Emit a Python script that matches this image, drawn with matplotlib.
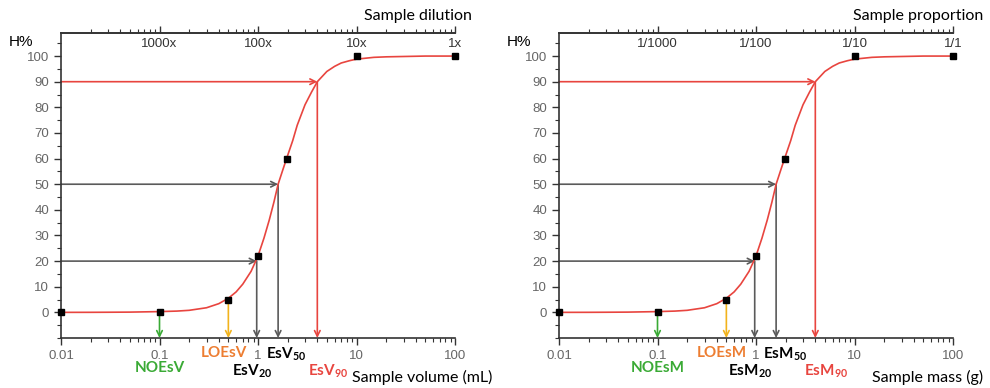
import numpy as np
import matplotlib.pyplot as plt
from matplotlib.ticker import FixedLocator, NullFormatter, MultipleLocator, LogLocator

plt.rcParams['font.family'] = ['Liberation Sans', 'DejaVu Sans']
plt.rcParams['mathtext.fontset'] = 'custom'
plt.rcParams['mathtext.rm'] = 'Lato'
plt.rcParams['mathtext.bf'] = 'Lato:bold'

# measured points (sample volume / mass, H%)
x_pts = [0.01, 0.1, 0.5, 1, 1.95, 10, 100]
h_pts = [0, 0.3, 5, 22, 60, 100, 100]

# fitted curve
curve_x = [0.01, 0.02, 0.03, 0.05, 0.1, 0.15, 0.2, 0.3, 0.4, 0.5, 0.6, 0.7, 0.85, 1,
           1.15, 1.3, 1.45, 1.6, 1.8, 1.95, 2.25, 2.5, 3, 3.5, 4, 5, 6, 7, 8.5, 10, 15, 20, 50, 100]
curve_h = [0, 0.02, 0.05, 0.1, 0.3, 0.5, 0.8, 1.8, 3.4, 5.5, 8.0, 11, 16, 22,
           29, 36, 43, 50, 56, 60, 67, 73, 81, 86, 90, 94, 96, 97.3, 98.2, 98.8, 99.5, 99.7, 100, 100]

# effect levels
noe, loe, es20, es50, es90 = 0.1, 0.5, 0.97, 1.6, 4.0
h20, h50, h90 = 20, 50, 90

bottom_ticks = [0.01, 0.1, 1, 10, 100]
bottom_labels = ['0.01', '0.1', '1', '10', '100']
top_ticks = [0.1, 1, 10, 100]
dilution_labels = ['1000x', '100x', '10x', '1x']
proportion_labels = ['1/1000', '1/100', '1/10', '1/1']

RED = '#e8453f'
GREY = '#5a5a5a'
GREEN = '#3aaa35'
YELLOW = '#f2b31c'
ORANGE = '#ed7d31'
TICKC = '#666666'

fig = plt.figure(figsize=(9.9, 3.88), dpi=100)


def panel(left, letter, top_labels, xlabel, toplabel, xlab_right, top_right, hx):
    ax = fig.add_axes([left, 1 - 338 / 388, 0.398, (338 - 33) / 388])
    ax.set_xscale('log')
    ax.set_xlim(0.01, 100)
    ax.set_ylim(-10, 109)
    ax.spines['right'].set_visible(False)
    for s in ['left', 'bottom', 'top']:
        ax.spines[s].set_color('#333333')
        ax.spines[s].set_linewidth(1.2)

    ax.set_xticks(bottom_ticks)
    ax.set_xticklabels(bottom_labels)
    ax.xaxis.set_minor_locator(LogLocator(base=10, subs=np.arange(2, 10)))
    ax.xaxis.set_minor_formatter(NullFormatter())
    ax.set_yticks(range(0, 101, 10))
    ax.yaxis.set_minor_locator(MultipleLocator(5))
    ax.tick_params(which='both', direction='out', colors='#333333', labelcolor=TICKC,
                   labelsize=9.5)
    ax.tick_params(which='major', length=5, width=1)
    ax.tick_params(which='minor', length=3, width=0.8)
    ax.tick_params(axis='x', which='both', top=False, labeltop=False)

    # top axis (dilution / proportion)
    ax2 = ax.twiny()
    ax2.set_xscale('log')
    ax2.set_xlim(0.01, 100)
    ax2.xaxis.set_major_locator(FixedLocator(top_ticks))
    ax2.set_xticklabels(top_labels)
    ax2.xaxis.set_minor_locator(LogLocator(base=10, subs=np.arange(2, 10)))
    ax2.xaxis.set_minor_formatter(NullFormatter())
    ax2.tick_params(axis='x', which='both', direction='out', colors='#333333',
                    labelcolor='#333333', labelsize=9.5, pad=-17)
    ax2.tick_params(which='major', length=5, width=1)
    ax2.tick_params(which='minor', length=3, width=0.8)
    for s in ['right', 'left', 'bottom']:
        ax2.spines[s].set_visible(False)
    ax2.spines['top'].set_linewidth(1.2)
    ax2.spines['top'].set_color('#333333')

    # curve and points
    ax.plot(curve_x, curve_h, color=RED, lw=1.2, zorder=3)
    ax.plot(x_pts, h_pts, 's', color='black', ms=5, zorder=4, clip_on=False)

    arw = dict(arrowstyle='->', lw=1.2, shrinkA=0, shrinkB=0, mutation_scale=10)
    # guide lines to the curve, then down to the axis
    for xv, hv, c in [(es20, h20, GREY), (es50, h50, GREY), (es90, h90, RED)]:
        ax.annotate('', xy=(xv, hv), xytext=(0.01, hv),
                    arrowprops=dict(arw, color=c), zorder=2)
        ax.annotate('', xy=(xv, -10), xytext=(xv, hv),
                    arrowprops=dict(arw, color=c), zorder=2)
    ax.annotate('', xy=(noe, -10), xytext=(noe, 0.3),
                arrowprops=dict(arw, color=GREEN), zorder=2)
    ax.annotate('', xy=(loe, -10), xytext=(loe, 5),
                arrowprops=dict(arw, color=YELLOW), zorder=2)

    # effect labels under the axis
    tr = ax.get_xaxis_transform()
    kw = dict(transform=tr, ha='center', va='center', fontsize=11, fontweight='bold',
              family=['Lato', 'DejaVu Sans'])
    ax.text(0.1, -0.10, 'NOEs' + letter, color=GREEN, **kw)
    ax.text(0.45, -0.05, 'LOEs' + letter, color=ORANGE, **kw)
    ax.text(0.88, -0.11, r'$\mathbf{Es%s_{20}}$' % letter, color='black', **kw)
    ax.text(1.95, -0.055, r'$\mathbf{Es%s_{50}}$' % letter, color='black', **kw)
    ax.text(5.2, -0.11, r'$\mathbf{Es%s_{90}}$' % letter, color=RED, **kw)

    fig.text(xlab_right, 1 - 377 / 388, xlabel, ha='right', va='center', fontsize=11.5,
             family=['Lato', 'DejaVu Sans'])
    fig.text(top_right, 1 - 16 / 388, toplabel, ha='right', va='center', fontsize=11.5,
             family=['Lato', 'DejaVu Sans'])
    fig.text(hx, 1 - 42 / 388, 'H%', ha='left', va='center', fontsize=11)
    return ax


panel(61 / 990, 'V', dilution_labels, 'Sample volume (mL)', 'Sample dilution',
      492 / 990, 472 / 990, 9 / 990)
panel(559 / 990, 'M', proportion_labels, 'Sample mass (g)', 'Sample proportion',
      983 / 990, 983 / 990, 507 / 990)

fig.savefig('out.png', dpi=100)
